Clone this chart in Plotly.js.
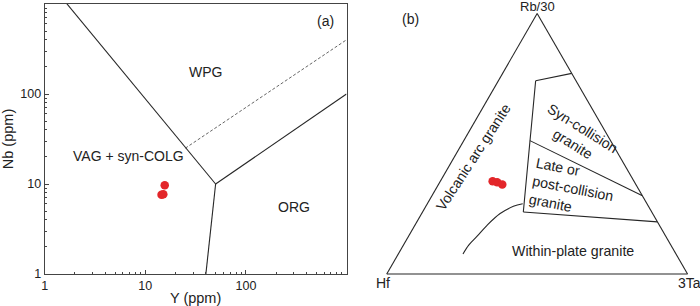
<!DOCTYPE html>
<html>
<head>
<meta charset="utf-8">
<script src="https://cdn.plot.ly/plotly-3.0.1.min.js"></script>
<style>html,body{margin:0;padding:0;background:#fff;}#chart{width:700px;height:306px;}</style>
</head>
<body>
<div id="chart"></div>
<script>
// ---------- Data: panel (a) Y vs Nb (ppm) ----------
const sampleY  = [14.5, 15.1, 15.6];
const sampleNb = [7.6, 7.7, 9.7];

const vagWpgY  = [1, 50];     const vagWpgNb  = [2000, 10];
const vagOrgY  = [50, 40];    const vagOrgNb  = [10, 1];
const wpgOrgY  = [50, 1000];  const wpgOrgNb  = [10, 100];
const dashY    = [25, 1000];  const dashNb    = [25, 400];

const xTickVals = [1, 10, 100];  const xTickText = ['1', '10', '100'];
const yTickVals = [1, 10, 100];  const yTickText = ['1', '10', '100'];

// ---------- Data: panel (b) ternary Rb/30 (a) - Hf (b) - 3Ta (c) ----------
const sampleRb = [0.356, 0.352, 0.344];
const sampleHf = [0.470, 0.457, 0.444];
const sampleTa = [0.174, 0.191, 0.212];

const topLineRb = [0.770, 0.742];          const topLineHf = [0.000, 0.134];  const topLineTa = [0.230, 0.124];
const leftLineRb = [0.742, 0.238];         const leftLineHf = [0.134, 0.427]; const leftLineTa = [0.124, 0.335];
const midLineRb = [0.512, 0.300];          const midLineHf = [0.268, 0.000]; const midLineTa = [0.220, 0.700];
const lowLineRb = [0.238, 0.200];          const lowLineHf = [0.427, 0.000]; const lowLineTa = [0.335, 0.800];
const curveRb = [0.077, 0.111, 0.145, 0.187, 0.232, 0.260, 0.270];
const curveHf = [0.708, 0.672, 0.627, 0.573, 0.507, 0.449, 0.413];
const curveTa = [0.215, 0.217, 0.228, 0.240, 0.261, 0.291, 0.317];

// ---------- helpers ----------
const W = 700, H = 306;
const fx = p => p / W;
const fy = p => 1 - p / H;
const FONT = 'Liberation Sans, Arial, Helvetica, sans-serif';
const lineCol = '#262626';
const red = '#e3262a';

const minorVals = [];
[1, 10, 100].forEach(d => { for (let k = 2; k <= 9; k++) minorVals.push(d * k); });

function seg(x, y, dash) {
  return {type: 'scatter', mode: 'lines', x: x, y: y, xaxis: 'x', yaxis: 'y',
    line: {color: dash ? '#555' : lineCol, width: dash ? 0.9 : 1.1, dash: dash ? '3px,2px' : 'solid'},
    hoverinfo: 'skip', showlegend: false};
}
function tseg(a, b, c) {
  return {type: 'scatterternary', mode: 'lines', a: a, b: b, c: c, subplot: 'ternary',
    line: {color: lineCol, width: 1.1, shape: 'spline'}, hoverinfo: 'skip', showlegend: false};
}

const traces = [
  seg(vagWpgY, vagWpgNb), seg(vagOrgY, vagOrgNb), seg(wpgOrgY, wpgOrgNb), seg(dashY, dashNb, true),
  {type: 'scatter', mode: 'markers', x: sampleY, y: sampleNb, xaxis: 'x', yaxis: 'y',
    marker: {color: red, size: 8.5, line: {width: 0}}, showlegend: false},
  tseg(topLineRb, topLineHf, topLineTa), tseg(leftLineRb, leftLineHf, leftLineTa),
  tseg(midLineRb, midLineHf, midLineTa), tseg(lowLineRb, lowLineHf, lowLineTa),
  tseg(curveRb, curveHf, curveTa),
  {type: 'scatterternary', mode: 'markers', a: sampleRb, b: sampleHf, c: sampleTa, subplot: 'ternary',
    marker: {color: red, size: 8.5, line: {width: 0}}, showlegend: false}
];

const axisCommon = {
  type: 'log', range: [0, 3], showgrid: false, zeroline: false,
  showline: true, linecolor: '#444', linewidth: 1, mirror: true,
  ticks: 'inside', ticklen: 4, tickcolor: '#444', tickwidth: 1,
  tickfont: {family: FONT, size: 12.5, color: '#222'},
  minor: {tickvals: minorVals, ticks: 'inside', ticklen: 2.5, tickcolor: '#444', tickwidth: 1, showgrid: false}
};

const ann = (text, x, y, size, extra) => Object.assign({
  text: text, xref: 'paper', yref: 'paper', x: fx(x), y: fy(y), showarrow: false,
  xanchor: 'center', yanchor: 'middle', font: {family: FONT, size: size, color: '#222'}
}, extra || {});

const tAxis = {showgrid: false, showticklabels: false, ticks: '', showline: true,
  linecolor: lineCol, linewidth: 1.1, title: {text: ''}};

const layout = {
  width: W, height: H,
  margin: {l: 0, r: 0, t: 0, b: 0},
  paper_bgcolor: '#fff', plot_bgcolor: '#fff',
  showlegend: false,
  font: {family: FONT, color: '#222'},
  xaxis: Object.assign({}, axisCommon, {domain: [fx(44.7), fx(346.5)], anchor: 'y',
    tickvals: xTickVals, ticktext: xTickText,
    title: {text: 'Y (ppm)', font: {family: FONT, size: 14.5, color: '#222'}, standoff: 1}}),
  yaxis: Object.assign({}, axisCommon, {domain: [1 - 274 / H, 1 - 4 / H], anchor: 'x',
    tickvals: yTickVals, ticktext: yTickText,
    title: {text: 'Nb (ppm)', font: {family: FONT, size: 14.5, color: '#222'}, standoff: 4}}),
  ternary: {
    domain: {x: [fx(386), fx(688.3)], y: [1 - 274 / H, 1 - 13.5 / H]},
    sum: 1, bgcolor: 'rgba(0,0,0,0)',
    aaxis: tAxis, baxis: tAxis, caxis: tAxis
  },
  annotations: [
    ann('WPG', 206, 72, 14),
    ann('VAG + syn-COLG', 128, 156, 14),
    ann('ORG', 293.5, 207, 14),
    ann('(a)', 325.5, 21, 14),
    ann('(b)', 410.5, 18.5, 14),
    ann('Rb/30', 537, 6.5, 13, {borderpad: 0}),
    ann('Hf', 383, 283, 14),
    ann('3Ta', 689, 283, 14),
    ann('Volcanic arc granite', 473.3, 156.7, 14.2, {textangle: -57}),
    ann('Syn-collision<br>granite', 578, 136, 14.2, {textangle: 32}),
    ann('Late or<br>post-collision<br>granite', 573, 188, 14.2, {textangle: 11, align: 'left'}),
    ann('Within-plate granite', 573.3, 250.7, 14.2)
  ]
};

Plotly.newPlot('chart', traces, layout, {staticPlot: true, displayModeBar: false});
</script>
</body>
</html>
